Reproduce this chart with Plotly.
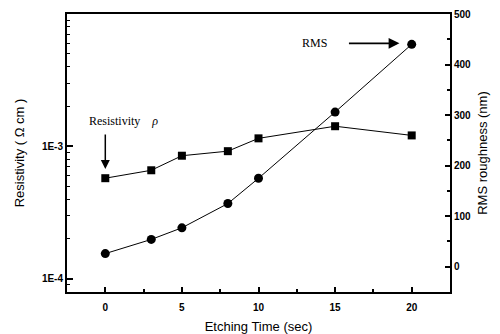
import plotly.graph_objects as go

etch_time = [0, 3, 5, 8, 10, 15, 20]
resistivity = [5.75e-4, 6.6e-4, 8.5e-4, 9.2e-4, 1.15e-3, 1.42e-3, 1.21e-3]
rms_roughness = [26, 54, 77, 125, 175, 306, 440]

x_ticks = [0, 5, 10, 15, 20]
left_ticks = [1e-4, 1e-3]
left_tick_labels = ["1E-4", "1E-3"]
left_minor = [m * 10.0 ** e for e in (-5, -4, -3) for m in range(2, 10)]
right_ticks = [0, 100, 200, 300, 400, 500]

fig = go.Figure()
fig.add_trace(go.Scatter(
    x=etch_time, y=resistivity, mode="lines+markers",
    line=dict(color="black", width=1),
    marker=dict(symbol="square", size=8, color="black"),
    yaxis="y", showlegend=False))
fig.add_trace(go.Scatter(
    x=etch_time, y=rms_roughness, mode="lines+markers",
    line=dict(color="black", width=1),
    marker=dict(symbol="circle", size=9, color="black"),
    yaxis="y2", showlegend=False))
fig.add_trace(go.Scatter(x=[], y=[], yaxis="y3", showlegend=False))

tickfont = dict(family="Liberation Sans", size=10, color="black", weight="bold")
titlefont = dict(family="Liberation Sans", size=13, color="black")

fig.update_layout(
    width=500, height=334,
    margin=dict(l=67, r=50, t=14, b=42),
    plot_bgcolor="white", paper_bgcolor="white",
    xaxis=dict(range=[-2.5, 22.5], tickvals=x_ticks, ticks="inside", ticklen=5,
               tickwidth=1.5, tickcolor="black", ticklabelstandoff=5, automargin=False,
               minor=dict(dtick=2.5, tick0=0, ticks="inside", ticklen=3, tickcolor="black"),
               showline=True, linewidth=2, linecolor="black", mirror=True,
               showgrid=False, zeroline=False, tickfont=tickfont,
               title=dict(text="Etching Time (sec)", font=titlefont, standoff=10)),
    yaxis=dict(type="log", range=[-4.1, -2], tickvals=left_ticks, ticktext=left_tick_labels,
               ticks="inside", ticklen=6, tickwidth=1.5, tickcolor="black", automargin=False,
               showline=True, linewidth=2, linecolor="black",
               showgrid=False, zeroline=False, tickfont=tickfont,
               title=dict(text="Resistivity ( Ω cm )", font=titlefont, standoff=14)),
    yaxis3=dict(type="log", range=[-4.1, -2], overlaying="y", side="left", anchor="x",
                tickvals=left_minor, ticks="inside", ticklen=3, tickcolor="black", automargin=False,
                showticklabels=False, showgrid=False, zeroline=False, showline=False),
    yaxis2=dict(range=[-50, 500], overlaying="y", side="right", anchor="x",
                tickvals=right_ticks, ticks="inside", ticklen=5, tickwidth=1.5, tickcolor="black",
                minor=dict(dtick=50, tick0=0, ticks="inside", ticklen=3, tickcolor="black"),
                showline=True, linewidth=2, linecolor="black", automargin=False,
                showgrid=False, zeroline=False, tickfont=tickfont,
                title=dict(text="RMS roughness (nm)", font=titlefont, standoff=8)),
)

serif = dict(family="Liberation Serif", size=12, color="black")
fig.add_annotation(x=0, y=-3.17, xref="x", yref="y", ax=0, ay=-36,
                   showarrow=True, arrowhead=2, arrowsize=1.2, arrowwidth=1.5,
                   arrowcolor="black", text="")
fig.add_annotation(x=-1.2, y=-2.81, xref="x", yref="y", xanchor="left", yanchor="middle",
                   text="Resistivity    <i>ρ</i>", showarrow=False, font=serif)
fig.add_annotation(x=19.2, y=442, xref="x", yref="y2", ax=-52, ay=0,
                   showarrow=True, arrowhead=2, arrowsize=1.2, arrowwidth=1.8,
                   arrowcolor="black", text="")
fig.add_annotation(x=14.6, y=442, xref="x", yref="y2", xanchor="right", yanchor="middle",
                   text="RMS", showarrow=False, font=serif)

fig.write_html("out.html")
